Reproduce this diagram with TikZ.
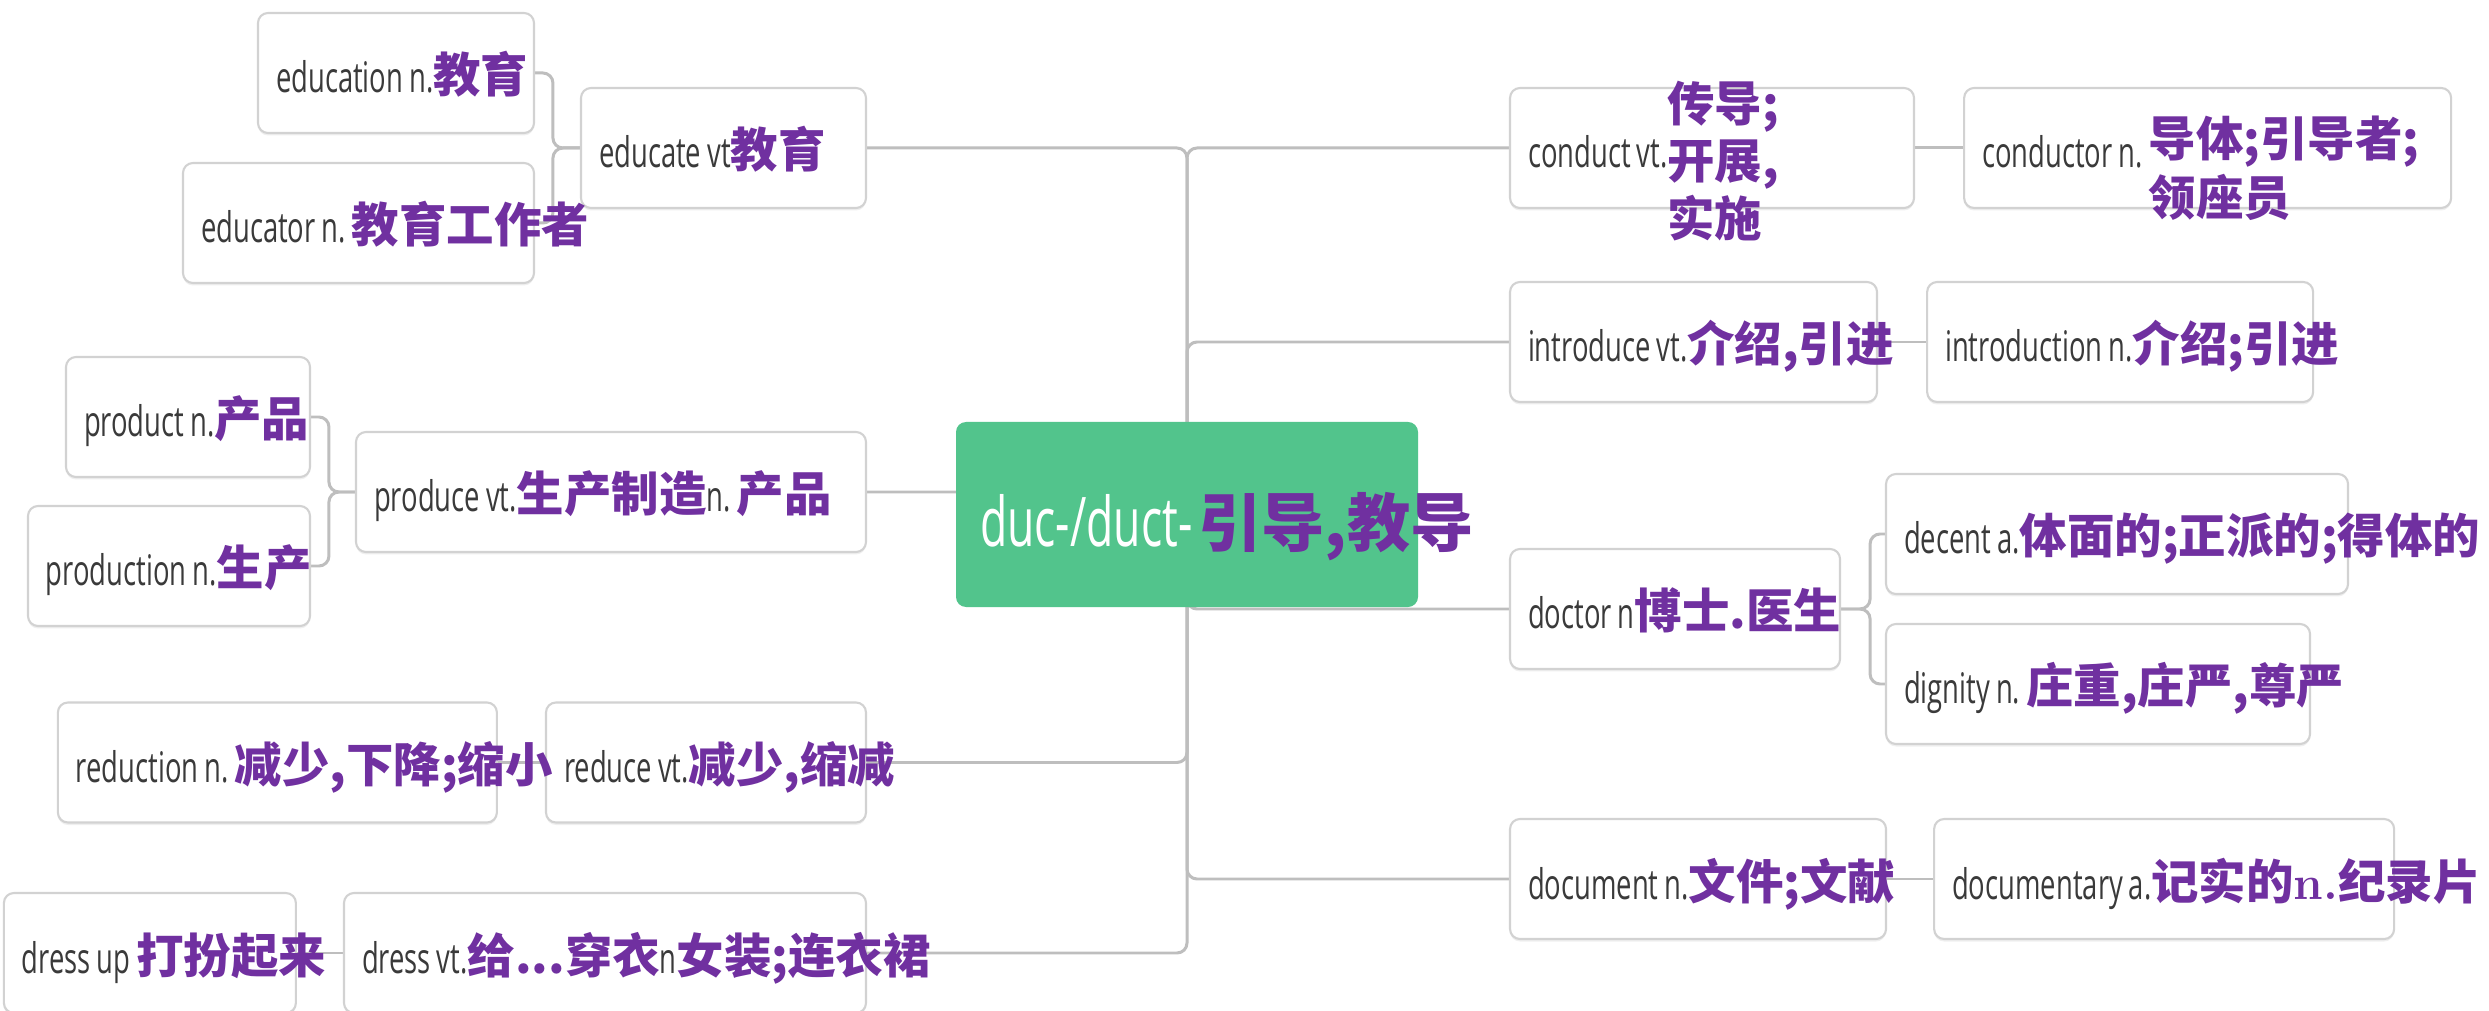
\documentclass[tikz,border=0pt]{standalone}
\usepackage{fontspec}
\usetikzlibrary{positioning,backgrounds,shadows}

\newfontfamily\enfont[FakeStretch=0.65]{Open Sans}
\newfontfamily\zhfont{Noto Sans CJK SC}

\definecolor{entext}{HTML}{3A3A3A}
\definecolor{wordpurple}{HTML}{7030A0}
\definecolor{rootgreen}{HTML}{52C48C}
\definecolor{boxline}{HTML}{D2D2D2}
\definecolor{linegray}{HTML}{BEBEBE}

\newcommand{\zh}[1]{{\zhfont\bfseries\fontsize{13.5pt}{16.2pt}\selectfont\color{wordpurple}#1}}
\newcommand{\entry}[2][0.18cm]{\noindent\hspace*{#1}\mbox{\spaceskip=0.06cm\xspaceskip=0.06cm\relax #2}}

\begin{document}
\begin{tikzpicture}[
        x=1cm, y=-1cm,
        word/.style={draw=boxline, line width=0.6pt, fill=white, rounded corners=0.1cm,
            drop shadow={shadow xshift=0pt, shadow yshift=-0.025cm, opacity=0.12},
            inner sep=0pt, minimum height=1.2cm, text width=#1,
            text height=0.5cm, text depth=0.1cm, align=left, text=entext,
            font={\enfont\fontsize{12pt}{14.4pt}\selectfont}},
        root/.style={fill=rootgreen, rounded corners=0.1cm, inner sep=0pt,
            minimum height=1.85cm, text width=4.62cm, text height=0.75cm, text depth=0.1cm,
            align=left, text=white, font={\enfont\fontsize{19.5pt}{23pt}\selectfont}},
        branch/.style={draw=linegray, line width=0.85pt, rounded corners=0.1cm},
    ]
    \useasboundingbox (0,0) rectangle (24.89,10.11);

    % root
    \node[root] (hub) at (11.87,5.145) {\entry[0.24cm]{duc-/duct- {\zhfont\bfseries\fontsize{18pt}{21.6pt}\selectfont\color{wordpurple}引导,教导}}};

    % left side
    \node[word=2.85cm] (educate) at (7.235,1.48) {\entry{educate vt\zh{教育}}};
    \node[word=2.76cm] (education) at (3.96,0.73) {\entry{education n.\zh{教育}}};
    \node[word=3.51cm] (educator) at (3.585,2.23) {\entry{educator n. \zh{教育工作者}}};

    \node[word=5.10cm] (produce) at (6.11,4.92) {\entry{produce vt.\zh{生产制造}n. \zh{产品}}};
    \node[word=2.44cm] (product) at (1.88,4.17) {\entry{product n.\zh{产品}}};
    \node[word=2.82cm] (production) at (1.69,5.66) {\entry{production n.\zh{生产}}};

    \node[word=3.20cm] (reduce) at (7.06,7.625) {\entry{reduce vt.\zh{减少,缩减}}};
    \node[word=4.39cm, left=0.47cm of reduce] (reduction) {\entry{reduction n. \zh{减少,下降;缩小}}};

    \node[word=5.22cm] (dress) at (6.05,9.53) {\entry{dress vt.\zh{给...穿衣}n\zh{女装;连衣裙}}};
    \node[word=2.92cm, left=0.46cm of dress] (dressup) {\entry{dress up \zh{打扮起来}}};

    % right side
    \node[word=4.04cm] (conduct) at (17.12,1.48) {\entry{conduct vt.\zh{\raisebox{-0.12cm}{\begin{tabular}[c]{@{}l@{}}传导;\\开展,\\实施\end{tabular}}}}};
    \node[word=4.87cm, right=0.48cm of conduct] (conductor) {\entry{conductor n. \zh{\raisebox{-0.19cm}{\begin{tabular}[c]{@{}l@{}}导体;引导者;\\领座员\end{tabular}}}}};

    \node[word=3.67cm] (introduce) at (16.935,3.42) {\entry{introduce vt.\zh{介绍,引进}}};
    \node[word=3.86cm, right=0.48cm of introduce] (introduction) {\entry{introduction n.\zh{介绍;引进}}};

    \node[word=3.30cm] (doctor) at (16.75,6.09) {\entry{doctor n\zh{博士.医生}}};
    \node[word=4.62cm] (decent) at (21.17,5.34) {\entry{decent a.\zh{体面的;正派的;得体的}}};
    \node[word=4.24cm] (dignity) at (20.98,6.84) {\entry{dignity n. \zh{庄重,庄严,尊严}}};

    \node[word=3.76cm] (document) at (16.98,8.79) {\entry{document n.\zh{文件;文献}}};
    \node[word=4.60cm, right=0.46cm of document] (documentary) {\entry{documentary a.\zh{记实的{\normalfont\bfseries n.}纪录片}}};

    % connectors
    \begin{scope}[on background layer]
        \fill[white] (0,0) rectangle (24.89,10.11);
        \foreach \n in {educate,produce,reduce,dress}
            \draw[branch] (hub.center) |- (\n.east);
        \foreach \n in {conduct,introduce,doctor,document}
            \draw[branch] (hub.center) |- (\n.west);
        \draw[branch] (educate.west) -- ++(-0.27,0) |- (education.east);
        \draw[branch] (educate.west) -- ++(-0.27,0) |- (educator.east);
        \draw[branch] (produce.west) -- ++(-0.26,0) |- (product.east);
        \draw[branch] (produce.west) -- ++(-0.26,0) |- (production.east);
        \draw[branch] (doctor.east) -- ++(0.29,0) |- (decent.west);
        \draw[branch] (doctor.east) -- ++(0.29,0) |- (dignity.west);
        \draw[branch] (reduce.west) -- (reduction.east);
        \draw[branch] (dress.west) -- (dressup.east);
        \draw[branch] (conduct.east) -- (conductor.west);
        \draw[branch] (introduce.east) -- (introduction.west);
        \draw[branch] (document.east) -- (documentary.west);
    \end{scope}
\end{tikzpicture}
\end{document}
